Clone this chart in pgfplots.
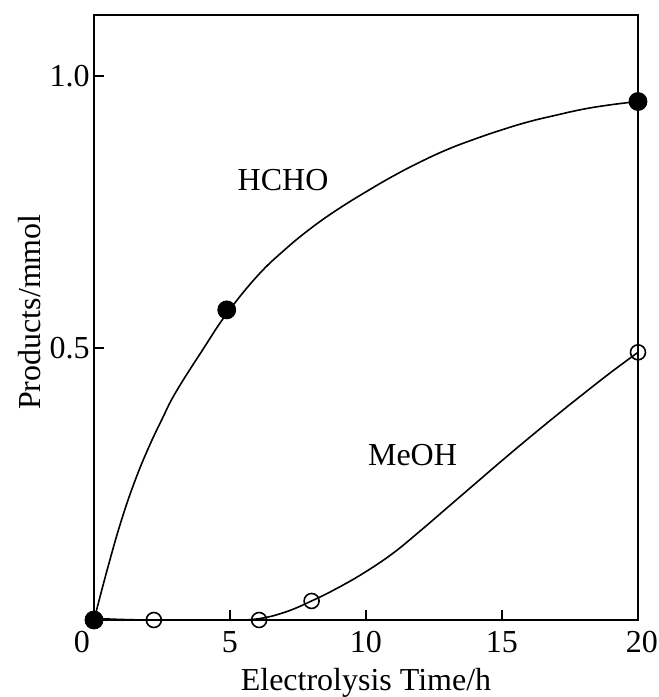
\documentclass[border=0pt]{standalone}
\usepackage{fontspec}
\setmainfont{Liberation Serif}
\usepackage{pgfplots}
\pgfplotsset{compat=1.18}
\begin{document}
\begin{tikzpicture}
\useasboundingbox (-47pt,-38.5pt) rectangle (282.5pt,310pt);
\begin{axis}[
  scale only axis,
  width=272pt, height=302.5pt,
  xmin=0, xmax=20, ymin=0, ymax=1.112,
  axis line style={line width=1pt},
  tick style={line width=1pt, black},
  major tick length=5pt,
  tick align=inside,
  tick pos=left,
  xtick={0,5,10,15,20},
  xticklabels={\mbox{0\hspace*{12pt}},\mbox{5},\mbox{10},\mbox{15},\mbox{\hspace*{4pt}20}},
  ytick={0.5,1.0},
  yticklabels={\mbox{0.5},\mbox{1.0}},
  ticklabel style={font=\fontsize{16}{19}\selectfont},
  xticklabel style={anchor=base, yshift=-16pt},
  yticklabel style={anchor=east, inner sep=0pt, xshift=-2pt},
  xlabel={Electrolysis Time/h},
  ylabel={Products/mmol},
  label style={font=\fontsize{16}{19}\selectfont},
  xlabel style={at={(axis description cs:0.5,0)}, anchor=base, yshift=-35pt},
  ylabel style={at={(axis description cs:-0.118,0.509)}, anchor=center},
  clip=false,
]
% HCHO curve
\addplot[black, line width=0.8pt, smooth, tension=0.7] coordinates {
(0,0) (0.5,0.095) (1,0.182) (1.5,0.255) (2,0.316) (2.5,0.369) (3,0.418)
(4,0.497) (4.88,0.563) (6,0.632) (7,0.680) (8,0.721) (9,0.756) (10,0.787)
(11,0.816) (12,0.842) (13,0.865) (14,0.884) (15,0.901) (16,0.916)
(17,0.928) (18,0.939) (19,0.947) (20,0.953)};
% MeOH curve
\addplot[black, line width=0.8pt, smooth, tension=0.7] coordinates {
(0,0.003) (1,0.001) (2,0) (3,0) (4,0) (5,0) (6,0.002) (7,0.014) (8,0.035)
(9,0.060) (10,0.089) (11,0.123) (12,0.164) (13,0.207) (14,0.250)
(15,0.293) (16,0.335) (17,0.376) (18,0.416) (19,0.455) (20,0.492)};
% MeOH data points
\addplot[only marks, mark=o, mark size=3.75pt, mark options={line width=0.8pt, black}] coordinates {
(0,0) (2.2,0) (6.07,0) (8,0.035) (20,0.492)};
% HCHO data points
\addplot[only marks, mark=*, mark size=4.5pt, mark options={fill=black, draw=black}] coordinates {
(0,0) (4.88,0.570) (20,0.953)};
\node[font=\fontsize{16}{19}\selectfont] at (axis cs:6.95,0.809) {HCHO};
\node[font=\fontsize{16}{19}\selectfont] at (axis cs:11.71,0.303) {MeOH};
\end{axis}
\end{tikzpicture}
\end{document}
